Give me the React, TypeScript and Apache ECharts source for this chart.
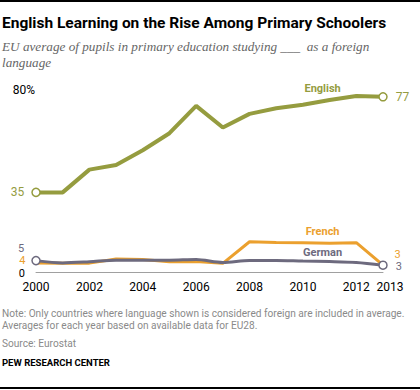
import React, { useEffect, useRef } from "react";
import * as echarts from "echarts";

const years = ["2000", "2001", "2002", "2003", "2004", "2005", "2006", "2007", "2008", "2009", "2010", "2011", "2012", "2013"];
const english = [35, 35, 45, 47, 53.5, 61, 73, 63.5, 69.5, 72, 73.5, 75.6, 77.4, 77];
const french = [4, 3.8, 3.9, 5.7, 5.5, 4.5, 4.6, 3.8, 13.3, 13, 12.9, 12.6, 12.9, 3];
const german = [5, 4, 4.5, 5.2, 5.2, 5.2, 5.5, 4.2, 5.1, 5.1, 4.8, 4.6, 4.2, 3];

const C_EN = "#959c3f";
const C_FR = "#eba02e";
const C_DE = "#6d6a7e";

const FONT = "Roboto, 'Liberation Sans', sans-serif";

function buildData(values: number[], color: string, opts: any) {
  const last = values.length - 1;
  const endFont = opts.endFont || 12;
  return values.map((v, i) => {
    const d: any = { value: v, symbol: "none" };
    const circle = (i === 0 && opts.startCircle) || (i === last && opts.endCircle);
    if (circle) {
      d.symbol = "circle";
      d.symbolSize = 8;
    } else if (i === 0 || i === last || i === opts.nameIndex) {
      d.symbol = "circle";
      d.symbolSize = 1;
      d.itemStyle = { color: "rgba(0,0,0,0)", borderColor: "rgba(0,0,0,0)", borderWidth: 0 };
    }
    if (i === 0) {
      d.label = {
        show: true,
        position: "left",
        distance: circle ? 7 : 10,
        offset: opts.startOffset || [0, 0],
        color,
        fontSize: endFont,
        lineHeight: endFont,
        fontFamily: FONT,
        formatter: String(Math.round(v)),
      };
    } else if (i === last) {
      d.label = {
        show: true,
        position: "right",
        distance: circle ? 8 : 11,
        offset: opts.endOffset || [0, 0],
        color,
        fontSize: endFont,
        lineHeight: endFont,
        fontFamily: FONT,
        formatter: String(Math.round(v)),
      };
    } else if (i === opts.nameIndex) {
      d.label = {
        show: true,
        position: "top",
        distance: 4,
        offset: opts.nameOffset || [0, 0],
        color,
        fontSize: 11,
        fontWeight: "bold",
        fontFamily: FONT,
        formatter: opts.name,
      };
    }
    return d;
  });
}

export default function App() {
  const ref = useRef<HTMLDivElement>(null);
  useEffect(() => {
    if (!ref.current) return;
    const chart = echarts.init(ref.current, null, { renderer: "svg" });
    const option: any = {
      animation: false,
      backgroundColor: "#ffffff",
      grid: { left: 36, right: 37, top: 90, bottom: 118 },
      xAxis: {
        type: "category",
        boundaryGap: false,
        data: years,
        axisLine: { lineStyle: { color: "#a0a0a0", width: 1 } },
        axisTick: { show: false },
        axisLabel: {
          interval: (i: number) => i % 2 === 0 || i === 13,
          margin: 9,
          color: "#000",
          fontSize: 12,
          fontFamily: FONT,
          formatter: (v: string) => (v === "2013" ? "{s|2013}" : v),
          rich: { s: { padding: [0, 0, 0, 14], fontSize: 12, color: "#000", fontFamily: FONT } },
        },
        splitLine: { show: false },
      },
      yAxis: {
        type: "value",
        min: 0,
        max: 80,
        interval: 80,
        axisLine: { show: false },
        axisTick: { show: false },
        splitLine: { show: false },
        axisLabel: {
          margin: 1,
          color: "#000",
          fontSize: 12,
          fontFamily: FONT,
          formatter: (v: number) => (v === 80 ? "80%" : "{z|0}"),
          rich: { z: { padding: [3, 10, 0, 0], fontSize: 11, lineHeight: 11, color: "#000", fontFamily: FONT } },
        },
      },
      series: [
        {
          type: "line",
          name: "English",
          data: buildData(english, C_EN, {
            startCircle: true,
            endCircle: true,
            nameIndex: 11,
            name: "English",
            nameOffset: [-7, -2],
          }),
          lineStyle: { color: C_EN, width: 4 },
          itemStyle: { color: "#fff", borderColor: C_EN, borderWidth: 1.5 },
          z: 3,
        },
        {
          type: "line",
          name: "French",
          data: buildData(french, C_FR, {
            nameIndex: 11,
            name: "French",
            nameOffset: [-7, -2],
            startOffset: [0, -2],
            endOffset: [0, -11],
            endFont: 11,
          }),
          lineStyle: { color: C_FR, width: 3 },
          itemStyle: { color: "#fff", borderColor: C_FR, borderWidth: 1.5 },
          z: 2,
        },
        {
          type: "line",
          name: "German",
          smooth: 0.3,
          data: buildData(german, C_DE, {
            startCircle: true,
            endCircle: true,
            nameIndex: 11,
            name: "German",
            nameOffset: [-7, 1],
            startOffset: [0, -12],
            endOffset: [0, 1],
            endFont: 11,
          }),
          lineStyle: { color: C_DE, width: 3 },
          itemStyle: { color: "#fff", borderColor: C_DE, borderWidth: 1.5 },
          z: 4,
        },
      ],
      graphic: [
        { type: "rect", shape: { x: 0, y: 0, width: 420, height: 2 }, style: { fill: "#000" } },
        {
          type: "text",
          x: 2,
          y: 23,
          style: {
            text: "English Learning on the Rise Among Primary Schoolers",
            fontFamily: FONT,
            fontWeight: "bold",
            fontSize: 15.5,
            fill: "#000",
            verticalAlign: "middle",
          },
        },
        {
          type: "text",
          x: 2,
          y: 46,
          style: {
            text: "EU average of pupils in primary education studying ___  as a foreign",
            fontFamily: "'Liberation Serif', serif",
            fontStyle: "italic",
            fontSize: 13.2,
            fill: "#666",
            verticalAlign: "middle",
          },
        },
        {
          type: "text",
          x: 2,
          y: 62,
          style: {
            text: "language",
            fontFamily: "'Liberation Serif', serif",
            fontStyle: "italic",
            fontSize: 13.2,
            fill: "#666",
            verticalAlign: "middle",
          },
        },
        {
          type: "text",
          x: 2,
          y: 313,
          style: {
            text: "Note: Only countries where language shown is considered foreign are included in average.",
            fontFamily: FONT,
            fontSize: 10.15,
            fill: "#8a8a8a",
            verticalAlign: "middle",
          },
        },
        {
          type: "text",
          x: 2,
          y: 325,
          style: {
            text: "Averages for each year based on available data for EU28.",
            fontFamily: FONT,
            fontSize: 10.15,
            fill: "#8a8a8a",
            verticalAlign: "middle",
          },
        },
        {
          type: "text",
          x: 2,
          y: 343,
          style: { text: "Source: Eurostat", fontFamily: FONT, fontSize: 10.15, fill: "#8a8a8a", verticalAlign: "middle" },
        },
        {
          type: "text",
          x: 2,
          y: 362,
          style: {
            text: "PEW RESEARCH CENTER",
            fontFamily: FONT,
            fontWeight: "bold",
            fontSize: 9.5,
            fill: "#000",
            verticalAlign: "middle",
          },
        },
        { type: "rect", shape: { x: 0, y: 387, width: 420, height: 2 }, style: { fill: "#000" } },
      ],
    };
    chart.setOption(option);
    return () => chart.dispose();
  }, []);
  return (
    <div
      ref={ref}
      style={{ position: "absolute", left: 0, top: 0, width: 420, height: 390 }}
    />
  );
}
